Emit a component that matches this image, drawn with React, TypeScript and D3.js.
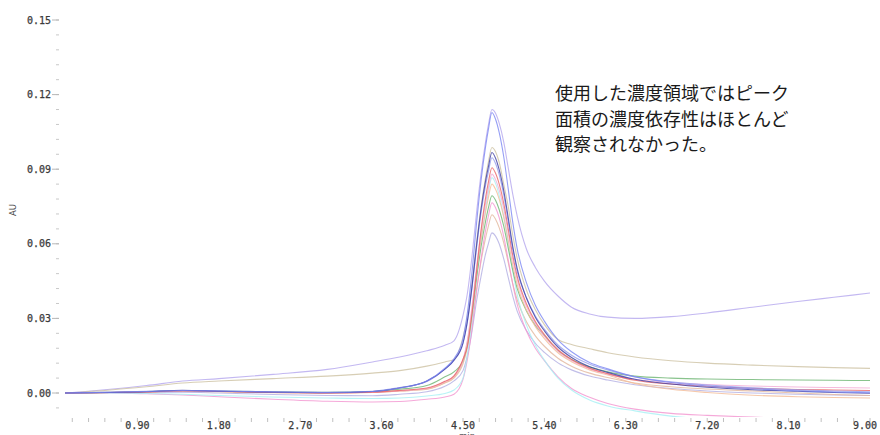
import React from "react";
import * as d3 from "d3";

const times = [0.1, 0.6, 1.0, 1.4, 1.8, 2.4, 3.0, 3.5, 3.8, 4.1, 4.3, 4.4, 4.5, 4.55, 4.6, 4.65, 4.7, 4.75, 4.78, 4.82, 4.86, 4.9, 4.95, 5.0, 5.05, 5.1, 5.2, 5.3, 5.4, 5.55, 5.7, 5.9, 6.1, 6.4, 6.8, 7.2, 7.7, 8.2, 8.6, 9.0];

const lavenderTail = [0, 0.0015, 0.003, 0.0048, 0.0058, 0.0075, 0.0095, 0.0125, 0.0145, 0.017, 0.0192, 0.021, 0.0312, 0.0404, 0.0551, 0.0726, 0.0882, 0.1011, 0.1076, 0.114, 0.1125, 0.1085, 0.101, 0.0905, 0.08, 0.071, 0.058, 0.0505, 0.045, 0.039, 0.0345, 0.0318, 0.0305, 0.03, 0.0307, 0.0322, 0.0345, 0.0368, 0.0385, 0.0402];
const blue = [0, 0.0003, 0.0006, 0.001, 0.0008, 0.0004, 0.0002, 0.0006, 0.002, 0.0048, 0.01, 0.0138, 0.0218, 0.0326, 0.0488, 0.0683, 0.0856, 0.0992, 0.1058, 0.1128, 0.1101, 0.1048, 0.0951, 0.0821, 0.0687, 0.0579, 0.0445, 0.0353, 0.0289, 0.0214, 0.0166, 0.0123, 0.0097, 0.0065, 0.0042, 0.0028, 0.0017, 0.0009, 0.0004, 0.0001];
const tan = [0, 0.0012, 0.0025, 0.004, 0.0048, 0.0058, 0.0068, 0.008, 0.009, 0.0108, 0.0125, 0.0135, 0.0225, 0.0309, 0.0445, 0.0606, 0.075, 0.0868, 0.0928, 0.0987, 0.097, 0.0928, 0.084, 0.075, 0.0635, 0.054, 0.0415, 0.0335, 0.0275, 0.0215, 0.0195, 0.0178, 0.0162, 0.0145, 0.013, 0.012, 0.0112, 0.0106, 0.0102, 0.0099];
const navy = [0, 0.0002, 0.0005, 0.0011, 0.0007, 0.0003, 0.0001, 0.0006, 0.002, 0.0048, 0.0096, 0.0132, 0.0202, 0.0293, 0.043, 0.0594, 0.074, 0.0854, 0.0908, 0.0967, 0.0944, 0.0898, 0.0815, 0.0705, 0.059, 0.0499, 0.0383, 0.0305, 0.025, 0.0185, 0.0143, 0.0106, 0.0083, 0.0055, 0.0036, 0.0023, 0.0013, 0.0007, 0.0002, -0.0001];
const blue2 = [0, 0.0003, 0.0007, 0.0009, 0.0008, 0.0005, 0.0003, 0.0007, 0.0022, 0.0046, 0.0096, 0.0131, 0.02, 0.0289, 0.0423, 0.0583, 0.0725, 0.0836, 0.0888, 0.0946, 0.0923, 0.0878, 0.0798, 0.069, 0.0578, 0.0488, 0.0385, 0.031, 0.0257, 0.0193, 0.0152, 0.0116, 0.0093, 0.0065, 0.0045, 0.0032, 0.0021, 0.0013, 0.0008, 0.0005];
const red = [0, 0.0002, 0.0004, 0.0008, 0.0006, 0.0002, 0, 0.0003, 0.001, 0.002, 0.0047, 0.0069, 0.0136, 0.019, 0.032, 0.049, 0.0655, 0.0786, 0.0846, 0.0906, 0.0884, 0.0841, 0.0764, 0.0661, 0.0554, 0.0468, 0.036, 0.0287, 0.0235, 0.0174, 0.0135, 0.01, 0.0078, 0.0051, 0.0036, 0.0027, 0.0019, 0.0014, 0.0012, 0.001];
const pinkUpper = [0, 0.0003, 0.0005, 0.0009, 0.0007, 0.0003, 0.0001, 0.0003, 0.0009, 0.0018, 0.0045, 0.0067, 0.0133, 0.0216, 0.0349, 0.0507, 0.0648, 0.0764, 0.0822, 0.088, 0.0858, 0.0817, 0.0742, 0.0643, 0.0538, 0.0455, 0.035, 0.0279, 0.0228, 0.0169, 0.0131, 0.0097, 0.0076, 0.0055, 0.0042, 0.0034, 0.0028, 0.0024, 0.0022, 0.002];
const cyanLower = [0, 0, -0.0002, -0.0005, -0.001, -0.0016, -0.002, -0.0022, -0.002, -0.0012, -0.0002, 0.0012, 0.006, 0.0155, 0.0295, 0.0465, 0.061, 0.074, 0.0805, 0.0866, 0.0843, 0.0795, 0.071, 0.06, 0.049, 0.0395, 0.0275, 0.0192, 0.0132, 0.006, 0.0012, -0.0028, -0.0052, -0.0072, -0.0093, -0.0105, -0.0115, -0.012, -0.0123, -0.0125];
const orange = [0, 0.0002, 0.0004, 0.0007, 0.0005, 0.0001, -0.0001, 0.0002, 0.0008, 0.0016, 0.0042, 0.0064, 0.0129, 0.0208, 0.0334, 0.0485, 0.0619, 0.0729, 0.0785, 0.084, 0.0819, 0.078, 0.0709, 0.0614, 0.0514, 0.0435, 0.0335, 0.0267, 0.0219, 0.0162, 0.0126, 0.0093, 0.0072, 0.0038, 0.0015, 0.0002, -0.0009, -0.0015, -0.0018, -0.002];
const green = [0, 0.0003, 0.0006, 0.001, 0.0008, 0.0005, 0.0003, 0.0006, 0.0015, 0.003, 0.0065, 0.0085, 0.0129, 0.0203, 0.0321, 0.0462, 0.0588, 0.0691, 0.0743, 0.0793, 0.0775, 0.0738, 0.0672, 0.0583, 0.0494, 0.042, 0.0331, 0.0272, 0.0231, 0.017, 0.0135, 0.0105, 0.0085, 0.0068, 0.006, 0.0056, 0.0054, 0.0052, 0.0051, 0.005];
const pinkLower = [0, 0, -0.0003, -0.0008, -0.0015, -0.0025, -0.0033, -0.0036, -0.0034, -0.0025, -0.0016, -0.0005, 0.0055, 0.0138, 0.026, 0.041, 0.054, 0.0655, 0.071, 0.0765, 0.0745, 0.0705, 0.063, 0.0535, 0.0438, 0.0355, 0.025, 0.018, 0.013, 0.0065, 0.0018, -0.0017, -0.0042, -0.0065, -0.0082, -0.009, -0.0097, -0.0103, -0.0108, -0.0112];
const brown = [0, 0.0002, 0.0005, 0.0008, 0.0006, 0.0003, 0.0001, 0.0002, 0.0008, 0.0015, 0.004, 0.006, 0.0117, 0.0183, 0.029, 0.0417, 0.053, 0.0624, 0.067, 0.0717, 0.0699, 0.0665, 0.0605, 0.0525, 0.044, 0.0374, 0.0288, 0.023, 0.0188, 0.014, 0.0108, 0.008, 0.0062, 0.004, 0.0025, 0.0016, 0.0008, 0, -0.0006, -0.001];
const lavender = [0, 0.0001, 0.0002, 0.0003, 0, -0.0006, -0.001, -0.0011, -0.0005, 0.0005, 0.0027, 0.0049, 0.009, 0.0153, 0.025, 0.037, 0.047, 0.056, 0.06, 0.0644, 0.0631, 0.06, 0.054, 0.0465, 0.039, 0.0328, 0.0252, 0.02, 0.0163, 0.0121, 0.0093, 0.0068, 0.0052, 0.0033, 0.0018, 0.0008, 0, -0.0005, -0.0008, -0.001];

const seriesList = [
  { values: lavenderTail, color: "#b4a6ee" },
  { values: tan, color: "#cdc2a2" },
  { values: lavender, color: "#b2aee2" },
  { values: brown, color: "#e2b69c" },
  { values: pinkLower, color: "#f294d0" },
  { values: cyanLower, color: "#a6f0f4" },
  { values: green, color: "#6cb470" },
  { values: orange, color: "#f4bc96" },
  { values: pinkUpper, color: "#f2aad4" },
  { values: red, color: "#e86464" },
  { values: blue2, color: "#949cee" },
  { values: navy, color: "#3c3ca2" },
  { values: blue, color: "#7a86f2" },
];

const yMajorTicks = [0, 0.03, 0.06, 0.09, 0.12, 0.15];
const xMajorTicks = [0.9, 1.8, 2.7, 3.6, 4.5, 5.4, 6.3, 7.2, 8.1, 9.0];
const noteLines = ["使用した濃度領域ではピーク", "面積の濃度依存性はほとんど", "観察されなかった。"];

export default function App() {
  const W = 880, H = 435;
  const x = d3.scaleLinear().domain([0, 9]).range([56, 870]);
  const y = d3.scaleLinear().domain([0, 0.15]).range([393, 20]);
  const yMinor = d3.range(-0.006, 0.1501, 0.006);
  const xMinor = d3.range(0.18, 9.001, 0.18);
  const line = d3
    .line<number>()
    .x((_, i) => x(times[i]))
    .y((v) => y(v))
    .curve(d3.curveMonotoneX);
  const labelFont = "'DejaVu Sans Mono', monospace";
  return (
    <svg width={W} height={H} style={{ position: "absolute", left: 0, top: 0, background: "#fff" }}>
      <defs>
        <clipPath id="plot">
          <rect x={56} y={5} width={820} height={417 - 5} />
        </clipPath>
      </defs>
      {/* y ticks */}
      {yMinor.map((v, i) => (
        <line key={"ym" + i} x1={56} x2={59} y1={y(v)} y2={y(v)} stroke="#c8c8c8" strokeWidth={1} />
      ))}
      {yMajorTicks.map((v) => (
        <g key={"yM" + v}>
          <line x1={52} x2={59} y1={y(v)} y2={y(v)} stroke="#b8b8b8" strokeWidth={1} />
          <text x={51} y={y(v) + 3.5} textAnchor="end" fontFamily={labelFont} fontSize={10} fill="#3a3a3a" stroke="#3a3a3a" strokeWidth={0.25}>
            {v.toFixed(2)}
          </text>
        </g>
      ))}
      <text
        transform={`translate(${16},${210}) rotate(-90)`}
        textAnchor="middle"
        fontFamily="'DejaVu Sans', sans-serif"
        fontSize={8.5}
        fill="#444"
      >
        AU
      </text>
      {/* x ticks */}
      {xMinor.map((v, i) => (
        <line key={"xm" + i} x1={x(v)} x2={x(v)} y1={418} y2={422} stroke="#c0c0c0" strokeWidth={1} />
      ))}
      {xMajorTicks.map((v, i) => (
        <text
          key={"xl" + v}
          x={i === xMajorTicks.length - 1 ? x(v) - 5 : x(v)}
          y={429}
          textAnchor="middle"
          fontFamily={labelFont}
          fontSize={10}
          fill="#3a3a3a"
          stroke="#3a3a3a"
          strokeWidth={0.25}
        >
          {v.toFixed(2)}
        </text>
      ))}
      <text x={x(4.5) + 4} y={439} textAnchor="middle" fontFamily="'DejaVu Sans', sans-serif" fontSize={8.5} fill="#555">
        min
      </text>
      {/* traces */}
      <g clipPath="url(#plot)">
        {seriesList.map((s, i) => (
          <path
            key={"s" + i}
            d={line(s.values) || ""}
            fill="none"
            stroke={s.color}
            strokeWidth={1.1}
            strokeOpacity={0.8}
          />
        ))}
      </g>
      {/* annotation */}
      {noteLines.map((t, i) => (
        <text
          key={"n" + i}
          x={555}
          y={100 + i * 25.5}
          fontFamily="'Noto Sans CJK JP', sans-serif"
          fontSize={18}
          fill="#1a1a1a"
        >
          {t}
        </text>
      ))}
    </svg>
  );
}
